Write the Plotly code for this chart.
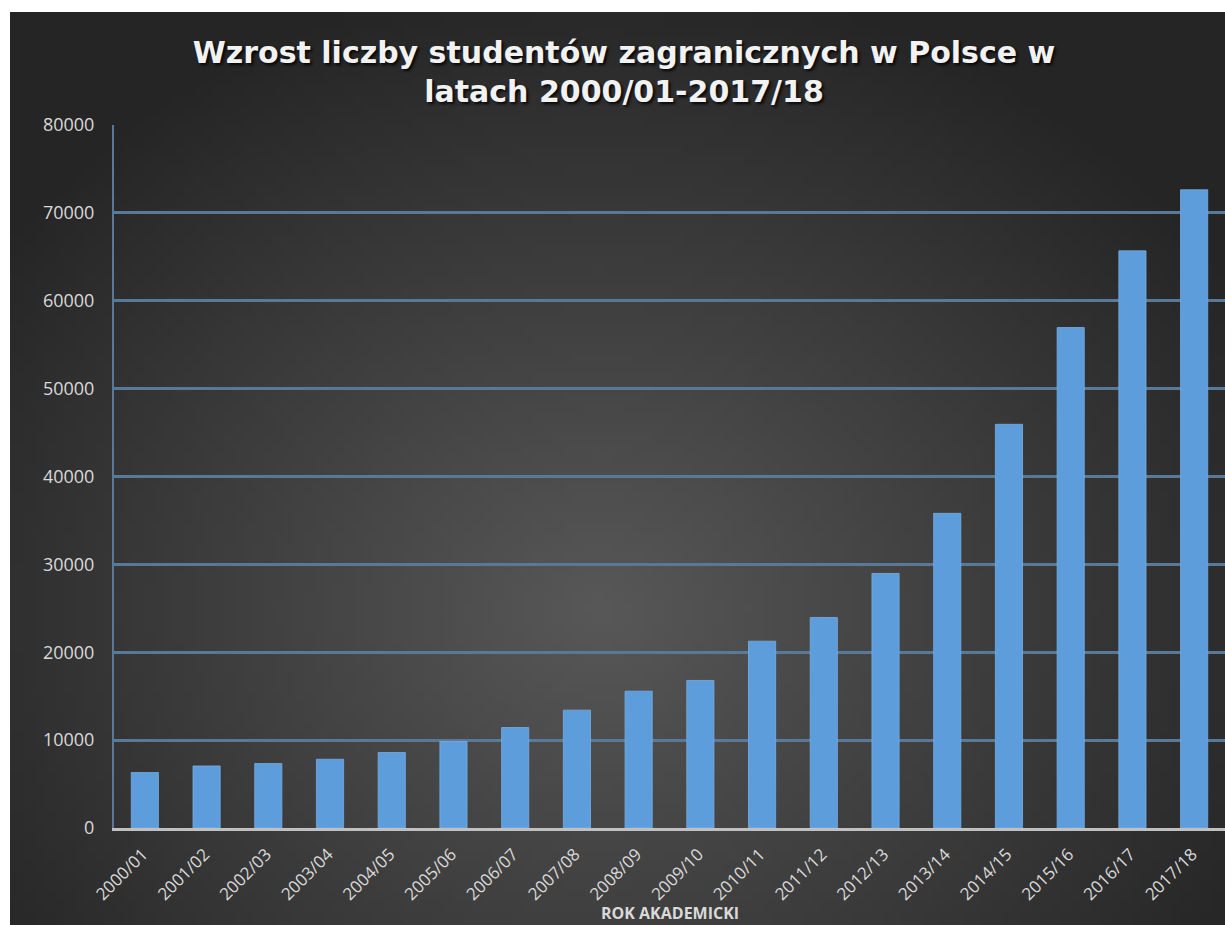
import base64
import struct
import zlib

import plotly.graph_objects as go

# ---------------- data ----------------
years = ["2000/01", "2001/02", "2002/03", "2003/04", "2004/05", "2005/06",
         "2006/07", "2007/08", "2008/09", "2009/10", "2010/11", "2011/12",
         "2012/13", "2013/14", "2014/15", "2015/16", "2016/17", "2017/18"]
students = [6310, 7060, 7330, 7820, 8590, 9840,
            11430, 13410, 15570, 16790, 21260, 23960,
            28970, 35810, 45940, 56950, 65680, 72630]
y_ticks = [0, 10000, 20000, 30000, 40000, 50000, 60000, 70000, 80000]

title_text = "Wzrost liczby studentów zagranicznych w Polsce w<br>latach 2000/01-2017/18"
x_title = "ROK AKADEMICKI"

# ---------------- figure geometry ----------------
W, H = 1225, 925
ML, MR, MT, MB = 114, 0, 125, 97
PW, PH = W - ML - MR, H - MT - MB

# ---------------- radial gradient background (pure-python PNG) ----------------
BG_X0, BG_Y0 = 10, 12          # dark area starts here (white strip left/top)
IW, IH = 122, 92               # small image, stretched by the browser


def make_png(w, h, pixel):
    raw = bytearray()
    for j in range(h):
        raw.append(0)
        for i in range(w):
            raw.extend(pixel(i, j))

    def chunk(tag, data):
        c = struct.pack(">I", len(data)) + tag + data
        return c + struct.pack(">I", zlib.crc32(tag + data) & 0xFFFFFFFF)

    png = b"\x89PNG\r\n\x1a\n"
    png += chunk(b"IHDR", struct.pack(">IIBBBBB", w, h, 8, 2, 0, 0, 0))
    png += chunk(b"IDAT", zlib.compress(bytes(raw), 9))
    png += chunk(b"IEND", b"")
    return png


cx, cy, rx, ry = 600.0, 610.0, 740.0, 640.0
c_in, c_out = 0x58, 0x25


def pix(i, j):
    x = BG_X0 + (i + 0.5) * (W - BG_X0) / IW
    y = BG_Y0 + (j + 0.5) * (H - BG_Y0) / IH
    d = (((x - cx) / rx) ** 2 + ((y - cy) / ry) ** 2) ** 0.5
    d = min(d, 1.0)
    v = int(round(c_out + (c_in - c_out) * (1 - d) ** 1.0))
    return (v, v, v)


bg_uri = "data:image/png;base64," + base64.b64encode(make_png(IW, IH, pix)).decode()

# ---------------- traces ----------------
fig = go.Figure()
fig.add_trace(go.Bar(
    x=years, y=students,
    marker=dict(color="#5d9ddb", line=dict(color="#78aee3", width=0.8)),
    width=0.44,
    hoverinfo="x+y",
))

grid_col = "#58799a"

fig.update_layout(
    width=W, height=H,
    margin=dict(l=ML, r=MR, t=MT, b=MB, pad=0),
    paper_bgcolor="white",
    plot_bgcolor="rgba(0,0,0,0)",
    showlegend=False,
    title=dict(
        text=title_text,
        x=624 / W, xref="container", xanchor="center",
        y=1 - 63 / H, yref="container", yanchor="top",
        font=dict(family="DejaVu Sans", size=30, color="#f2f2f2", weight="bold",
                  shadow="2px 2px 3px rgba(0,0,0,0.85)"),
    ),
    font=dict(family="Open Sans", color="#d9d9d9"),
    images=[dict(
        source=bg_uri, xref="paper", yref="paper",
        x=(BG_X0 - ML) / PW, y=(H - MB - BG_Y0) / PH,
        sizex=(W - BG_X0) / PW, sizey=(H - BG_Y0) / PH,
        xanchor="left", yanchor="top", sizing="stretch", layer="below",
    )],
    xaxis=dict(
        type="category",
        tickangle=-45,
        tickfont=dict(size=17, color="#d9d9d9"),
        ticklabelstandoff=7,
        ticklabelshift=-2,
        showline=True, linecolor="#c0c0c0", linewidth=2.5,
        showgrid=False, ticks="", automargin=False,
    ),
    yaxis=dict(
        range=[0, 80000],
        tickvals=y_ticks,
        tickformat="d",
        tickfont=dict(size=18, color="#d9d9d9"),
        ticklabelstandoff=14,
        showgrid=True, gridcolor=grid_col, gridwidth=2.5,
        showline=True, linecolor=grid_col, linewidth=2,
        zeroline=False, ticks="", automargin=False,
    ),
    annotations=[dict(
        text="<b>" + x_title + "</b>",
        xref="paper", x=0.5, xanchor="center",
        yref="paper", y=(H - MB - 926) / PH, yanchor="bottom",
        showarrow=False,
        font=dict(family="Open Sans", size=16, color="#d9d9d9"),
    )],
)

fig.write_html("out.html")
